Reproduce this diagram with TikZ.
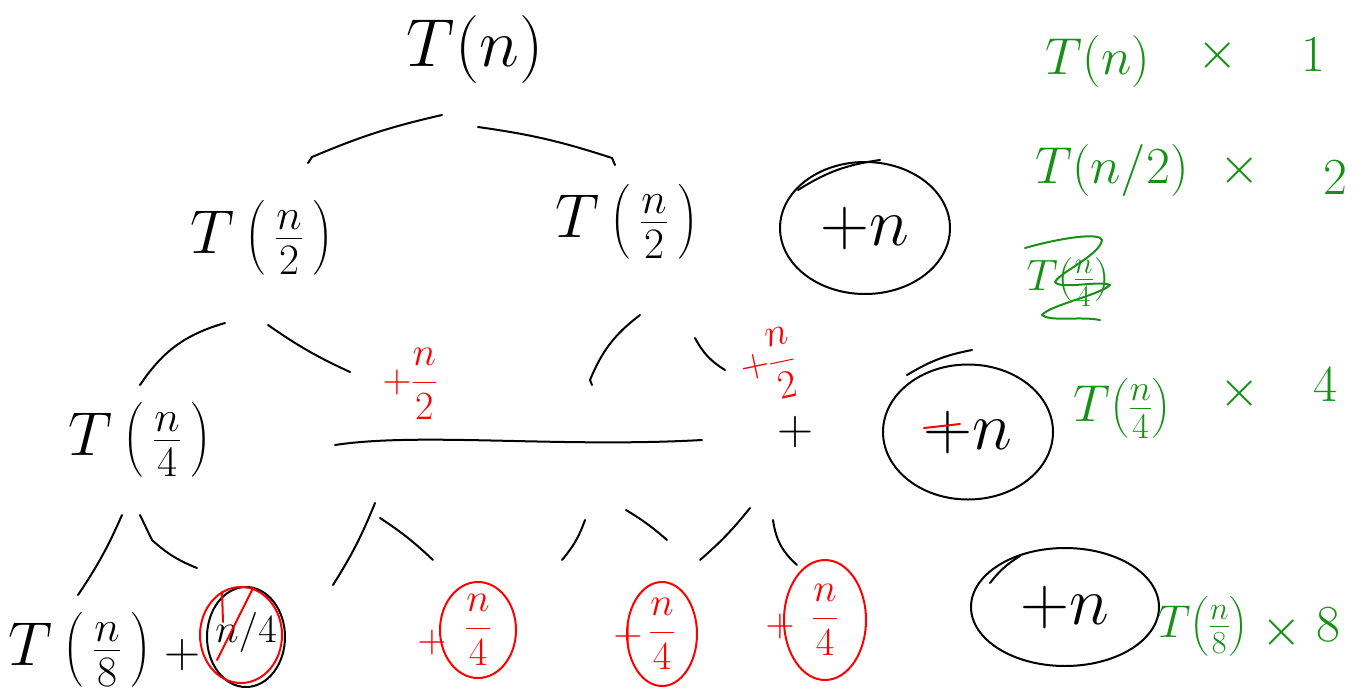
\RequirePackage{fix-cm}
\documentclass[tikz,border=0pt]{standalone}
\usepackage{amsmath}
\usetikzlibrary{shapes.geometric}
\definecolor{pengreen}{RGB}{22,145,22}
\definecolor{penred}{RGB}{255,0,0}
\newcommand{\fr}[2]{T\,\bigl(\,\tfrac{#1}{#2}\,\bigr)}
\tikzset{
  pen/.style={line width=2pt, line cap=round, line join=round, black},
  redpen/.style={pen, penred},
  greenpen/.style={pen, pengreen},
  hugetxt/.style={inner sep=0pt, font=\fontsize{68}{80}\selectfont},
  bigtxt/.style={inner sep=0pt, font=\fontsize{62}{74}\selectfont},
  midtxt/.style={inner sep=0pt, font=\fontsize{50}{60}\selectfont},
  smalltxt/.style={inner sep=0pt, font=\fontsize{40}{48}\selectfont},
  greentxt/.style={inner sep=0pt, text=pengreen, font=\fontsize{52}{62}\selectfont},
  ring/.style={draw, ellipse, line width=2pt, inner sep=0pt},
}
\begin{document}
\begin{tikzpicture}[x=1pt,y=-1pt]
\useasboundingbox (0,0) rectangle (1370,696);

% ---------- tree nodes ----------
\node[hugetxt] (root) at (475,50) {$T(n)$};
\node[bigtxt] (l1a) at (262,238) {$\fr{n}{2}$};
\node[bigtxt] (l1b) at (627,222) {$\fr{n}{2}$};
\node[bigtxt] (l2a) at (140,440) {$\fr{n}{4}$};
\node[midtxt] (plusmid) at (795,432) {$+$};
\node[bigtxt] (l3a) at (80,650) {$\fr{n}{8}$};
\node[midtxt] (plusbot) at (182,655) {$+$};

% ---------- connectors (tree branches) ----------
\coordinate (r1) at (308,163); \coordinate (r2) at (442,115);
\coordinate (r3) at (478,127); \coordinate (r4) at (615,165);
\draw[pen] (r1) -- (312,157) to[bend left=5] (r2);
\draw[pen] (r3) to[bend left=5] (612,158) -- (r4);

\coordinate (a1) at (140,385); \coordinate (a2) at (225,323);
\coordinate (a3) at (268,325); \coordinate (a4) at (350,372);
\draw[pen] (a1) to[bend left=20] (a2);
\draw[pen] (a3) to[bend right=5] (a4);

\coordinate (b1) at (592,385); \coordinate (b2) at (640,315);
\coordinate (b3) at (695,338); \coordinate (b4) at (725,370);
\draw[pen] (b1) -- (590,380) to[bend left=15] (b2);
\draw[pen] (b3) to[bend right=15] (b4);

\coordinate (h1) at (335,445); \coordinate (h2) at (702,440);
\draw[pen] (h1) .. controls (420,432) and (560,448) .. (h2);

% level 3 branches
\draw[pen] (78,595) to[bend right=5] (122,515);
\draw[pen] (140,515) -- (152,540) to[bend right=10] (197,568);
\draw[pen] (333,585) to[bend right=5] (375,503);
\draw[pen] (380,518) to[bend left=5] (433,560);
\draw[pen] (562,560) to[bend right=10] (585,520);
\draw[pen] (626,510) to[bend left=5] (667,540);
\draw[pen] (700,560) to[bend right=5] (750,508);
\draw[pen] (773,520) to[bend right=20] (797,565);

% ---------- red partial sums ----------
\node[smalltxt, text=penred] (rs1) at (410,384) {$+\dfrac{n}{2}$};
\node[smalltxt, text=penred, rotate=12] (rs2) at (768,366) {$+\dfrac{n}{2}$};

% ---------- circled level sums ----------
\node[ring, minimum width=170, minimum height=132] (c1) at (865,228) {};
\node[hugetxt] at (c1) {$+n$};
\draw[pen] (798,190) to[bend left=12] (880,160);

\node[ring, minimum width=170, minimum height=135] (c2) at (968,432) {};
\node[hugetxt] (c2t) at (c2) {$+n$};
\draw[redpen] (924,428) -- (960,424);
\draw[pen] (907,375) to[bend left=10] (972,350);

\node[ring, minimum width=188, minimum height=118] (c3) at (1065,607) {};
\node[hugetxt] at (c3) {$+n$};
\draw[pen] (990,583) to[bend left=10] (1020,556);

% ---------- bottom row ----------
\node[ring, minimum width=78, minimum height=100] (cb) at (246,637) {};
\node[ring, draw=penred, minimum width=82, minimum height=96] (cbr) at (241,635) {};
\node[smalltxt] (nq) at (246,632) {$n/4$};
\draw[redpen] (217,660) -- (253,588);
\draw[redpen] (222,592) -- (223,622);

\node[ring, draw=penred, minimum width=76, minimum height=96] (d1) at (478,630) {};
\node[smalltxt, text=penred] at (d1) {$\dfrac{n}{4}$};
\node[smalltxt, text=penred] at (432,642) {$+$};

\node[ring, draw=penred, minimum width=70, minimum height=104] (d2) at (662,634) {};
\node[smalltxt, text=penred] at (d2) {$\dfrac{n}{4}$};
\node[smalltxt, text=penred] at (628,636) {$+$};

\node[ring, draw=penred, minimum width=82, minimum height=120] (d3) at (825,620) {};
\node[smalltxt, text=penred] at (d3) {$\dfrac{n}{4}$};
\node[smalltxt, text=penred] at (780,626) {$+$};

% ---------- green tally ----------
\node[greentxt] (g1) at (1098,62) {$T(n)$};
\node[greentxt] at (1218,55) {$\times$};
\node[greentxt] at (1313,55) {$1$};

\node[greentxt] (g2) at (1112,170) {$T(n/2)$};
\node[greentxt] at (1240,170) {$\times$};
\node[greentxt] at (1335,178) {$2$};

\node[greentxt, font=\fontsize{44}{52}\selectfont] (g3) at (1068,282) {$T(\tfrac{n}{4})$};
\draw[greenpen] (1025,248) .. controls (1060,238) and (1100,232) .. (1102,240)
  .. controls (1100,255) and (1060,272) .. (1055,282)
  .. controls (1060,290) and (1100,280) .. (1110,285)
  .. controls (1100,295) and (1050,305) .. (1042,315)
  .. controls (1050,322) and (1080,316) .. (1100,320);

\node[greentxt] (g4) at (1122,408) {$T\bigl(\tfrac{n}{4}\bigr)$};
\node[greentxt] at (1240,393) {$\times$};
\node[greentxt] at (1325,385) {$4$};

\node[greentxt, font=\fontsize{46}{54}\selectfont] (g5) at (1203,626) {$T\bigl(\tfrac{n}{8}\bigr)$};
\node[greentxt] at (1282,632) {$\times$};
\node[greentxt] at (1328,625) {$8$};
\end{tikzpicture}
\end{document}
